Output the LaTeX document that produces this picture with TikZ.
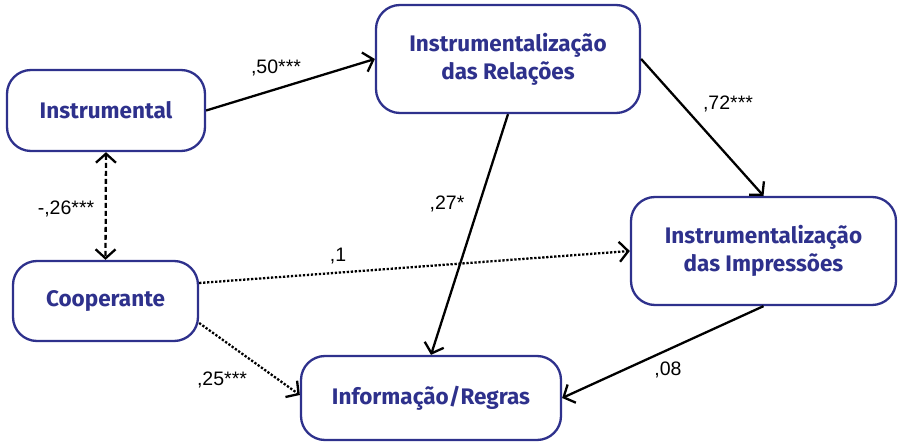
\documentclass[tikz,border=0pt]{standalone}
\usepackage{fontspec}
\setmainfont{Liberation Sans}
\newfontfamily\boxfont{Fira Sans}
\usetikzlibrary{arrows.meta}
\definecolor{boxblue}{RGB}{46,49,140}
\tikzset{
  barb/.tip={Straight Barb[length=9pt,width=20pt,line width=2.3pt]},
  construct/.style={draw=boxblue, line width=2.3pt, rounded corners=24pt, fill=white,
    text=boxblue, font=\boxfont\bfseries\fontsize{22.5}{28}\selectfont, align=center,
    inner sep=0pt},
  path/.style={draw=black, line width=2.3pt, -barb},
  weak/.style={path, dash pattern=on 2.3pt off 1.7pt},
  corr/.style={draw=black, line width=2.3pt, dash pattern=on 5pt off 3pt, barb-barb},
  coef/.style={font=\fontsize{19.5}{22}\selectfont, inner sep=0pt}
}
\begin{document}
\begin{tikzpicture}[x=1pt,y=-1pt]
\useasboundingbox (0,0) rectangle (902,443);

% constructs
\node[construct, minimum width=198pt, minimum height=81pt] (ins) at (106,110.5) {Instrumental};
\node[construct, minimum width=264pt, minimum height=108pt] (rel) at (508,59) {Instrumentalização\\das Relações};
\node[construct, minimum width=265pt, minimum height=108pt] (imp) at (763.5,251) {Instrumentalização\\das Impressões};
\node[construct, minimum width=185pt, minimum height=80pt] (coop) at (105.5,301) {Cooperante};
\node[construct, minimum width=260pt, minimum height=84pt] (inf) at (431,398) {Informação/Regras};

% structural paths
\draw[path] (ins.east) -- (rel.west);
\draw[path] (rel.east) -- (imp.north);
\draw[path] (rel.south) -- (inf.north);
\draw[path] (imp.south) -- (inf.east);
\draw[weak] ([yshift=18pt]coop.east) -- (imp.west);
\draw[weak] ([yshift=-22pt]coop.east) -- ([yshift=3pt]inf.west);
\draw[corr] (ins.south) -- (coop.north);

% coefficients
\node[coef] (c1) at (276,68) {,50***};
\node[coef] (c2) at (728,104) {,72***};
\node[coef] (c3) at (447,204) {,27*};
\node[coef] (c4) at (668,370) {,08};
\node[coef] (c5) at (338,256) {,1};
\node[coef] (c6) at (222,380) {,25***};
\node[coef] (c7) at (66,209) {-,26***};
\end{tikzpicture}
\end{document}
